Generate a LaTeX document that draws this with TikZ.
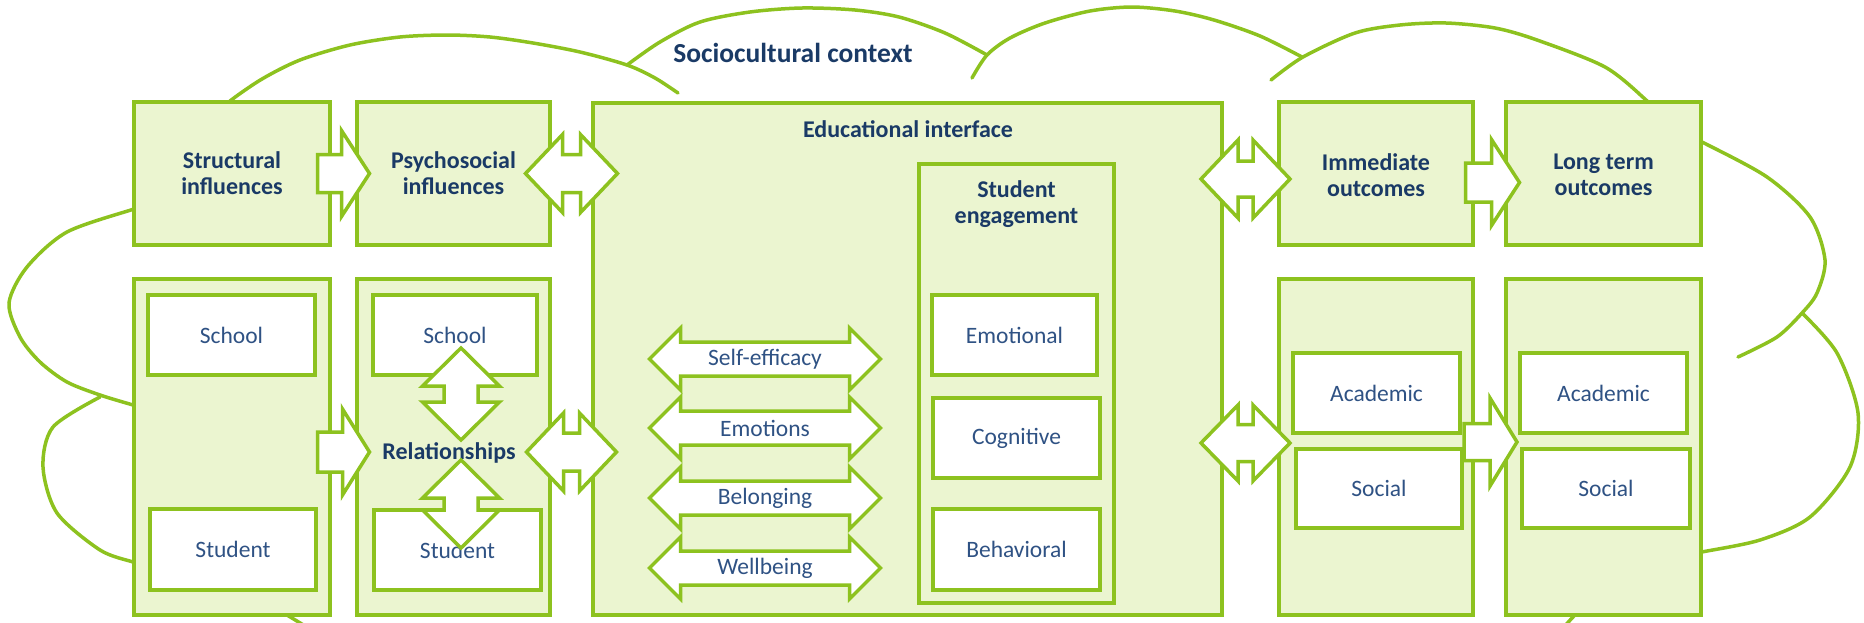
\documentclass[tikz,border=0pt]{standalone}
\usepackage{fontspec}
\setmainfont{Carlito}
\usetikzlibrary{calc}
\definecolor{lgreen}{HTML}{8DC21F}
\definecolor{lfill}{HTML}{EBF5D0}
\definecolor{navy}{HTML}{1A3A66}
\definecolor{tblue}{HTML}{2F5284}
\begin{document}
\begin{tikzpicture}[x=1pt,y=-1pt,
  cloudline/.style={draw=lgreen, line width=3.5pt, line cap=round},
  outerbox/.style={draw=lgreen, fill=lfill, line width=4pt, inner sep=0pt, outer sep=0pt},
  innerbox/.style={draw=lgreen, fill=white, line width=4pt, inner sep=0pt, outer sep=0pt,
     text=tblue, font=\fontsize{23.5}{26}\selectfont},
  titletext/.style={text=navy, font=\fontsize{24}{26}\selectfont\bfseries, align=center, inner sep=0pt},
  itext/.style={text=tblue, font=\fontsize{23.5}{26}\selectfont, inner sep=0pt},
  blockarrow/.style={draw=lgreen, fill=white, line width=3.5pt, line join=miter},
  pics/sarrow/.style n args={4}{code={
    \path[blockarrow] ({-#1/2},{-#4}) -- ({#1/2-#2},{-#4}) -- ({#1/2-#2},{-#3}) -- ({#1/2},0)
      -- ({#1/2-#2},{#3}) -- ({#1/2-#2},{#4}) -- ({-#1/2},{#4}) -- cycle;}},
  pics/darrow/.style n args={4}{code={
    \path[blockarrow] ({-#1/2},0) -- ({-#1/2+#2},{-#3}) -- ({-#1/2+#2},{-#4}) -- ({#1/2-#2},{-#4})
      -- ({#1/2-#2},{-#3}) -- ({#1/2},0) -- ({#1/2-#2},{#3}) -- ({#1/2-#2},{#4})
      -- ({-#1/2+#2},{#4}) -- ({-#1/2+#2},{#3}) -- cycle;}},
]
\useasboundingbox (0,0) rectangle (1864,622);

% ---- cloud (sociocultural context) ----
\draw[cloudline] plot[smooth] coordinates {(226,108) (230,101) (262,79) (300,60) (350,45) (400,37) (447,35) (490,37) (533,43) (580,52) (627,65) (655,78) (678,93)};
\draw[cloudline] plot[smooth] coordinates {(627,65) (660,42) (700,22) (750,12) (802,8) (855,10) (899,17) (945,33) (987,55)};
\draw[cloudline] plot[smooth] coordinates {(972,78) (987,55) (1010,38) (1045,23) (1090,11) (1132,7) (1175,11) (1214,20) (1260,36) (1302,57)};
\draw[cloudline] plot[smooth] coordinates {(1271,80) (1303,57) (1355,33) (1400,25) (1446,23) (1495,28) (1537,40) (1605,67) (1646,100) (1656,112)};
\draw[cloudline] plot[smooth] coordinates {(1690,137) (1702,142) (1767,177) (1810,217) (1825,260) (1817,293) (1802,313) (1777,337) (1738,357)};
\draw[cloudline] plot[smooth] coordinates {(1802,313) (1837,353) (1858,413) (1850,467) (1810,517) (1760,540) (1702,552) (1690,555)};
\draw[cloudline] plot[smooth] coordinates {(146,205) (134,209) (67,232) (27,267) (9,303) (20,337) (40,362) (67,382) (100,395) (133,405) (146,409)};
\draw[cloudline] plot[smooth] coordinates {(100,397) (53,427) (43,467) (57,513) (100,550) (133,562) (146,566)};
\draw[cloudline] plot[smooth] coordinates {(268,604) (287,615) (305,626)};
\draw[cloudline] plot[smooth] coordinates {(1586,604) (1573,617) (1563,628)};

\node[text=navy, font=\fontsize{27.5}{30}\selectfont\bfseries, inner sep=0pt] (socio) at (793,53) {Sociocultural context};

% ---- top row ----
\node[outerbox, minimum width=196, minimum height=143] (struct) at (232,173.5) {};
\node[outerbox, minimum width=193, minimum height=143] (psych) at (453.5,173.5) {};
\node[outerbox, minimum width=629, minimum height=512] (edu) at (907.5,359) {};
\node[outerbox, minimum width=194, minimum height=143] (imm) at (1376,173.5) {};
\node[outerbox, minimum width=195, minimum height=143] (long) at (1603.5,173.5) {};

% ---- bottom row ----
\node[outerbox, minimum width=196, minimum height=336] (structb) at (232,447) {};
\node[outerbox, minimum width=193, minimum height=336] (psychb) at (453.5,447) {};
\node[outerbox, minimum width=194, minimum height=336] (immb) at (1376,447) {};
\node[outerbox, minimum width=195, minimum height=336] (longb) at (1603.5,447) {};
\node[outerbox, minimum width=195, minimum height=439] (engage) at (1016.5,383.5) {};

% ---- titles ----
\node[titletext] (tstruct) at (struct) {Structural\\influences};
\node[titletext] (tpsych) at (psych) {Psychosocial\\influences};
\node[titletext] (tedu) at (908,129) {Educational interface};
\node[titletext] (timm) at (1376,175) {Immediate\\outcomes};
\node[titletext] (tlong) at (1603.5,175) {Long term\\outcomes};
\node[titletext] (tengage) at (1016.5,204) {Student\\engagement};

% ---- inner boxes ----
\node[innerbox, minimum width=167, minimum height=80] (sschool) at (231.5,335) {School};
\node[innerbox, minimum width=166, minimum height=81] (sstudent) at (233,549.5) {Student};
\node[innerbox, minimum width=164, minimum height=80] (pschool) at (455,335) {School};
\node[innerbox, minimum width=167, minimum height=80] (pstudent) at (457.5,550) {Student};
\node[innerbox, minimum width=165, minimum height=80] (emot) at (1014.5,335) {Emotional};
\node[innerbox, minimum width=167, minimum height=80] (cogn) at (1016.5,438) {Cognitive};
\node[innerbox, minimum width=167, minimum height=81] (behav) at (1016.5,549.5) {Behavioral};
\node[innerbox, minimum width=167, minimum height=80] (iacad) at (1376.5,393) {Academic};
\node[innerbox, minimum width=166, minimum height=79] (isoc) at (1379,488.5) {Social};
\node[innerbox, minimum width=167, minimum height=80] (lacad) at (1603.5,393) {Academic};
\node[innerbox, minimum width=168, minimum height=79] (lsoc) at (1606,488.5) {Social};

\node[titletext] (rel) at (449,453) {Relationships};

% ---- block arrows between boxes ----
\pic at ($(struct.east)!0.5!(psych.west)$) {sarrow={52}{28}{43}{19}};
\pic at ($(psych.east)!0.5!(psych.east -| edu.west)$) {darrow={92}{37}{39}{19}};
\pic at ($(structb.east)!0.5!(psychb.west)+(0,5)$) {sarrow={52}{27}{43}{20}};
\pic at ($(psychb.east)!0.5!(psychb.east -| edu.west)+(0,5)$) {darrow={90}{37}{39}{19}};
\pic at ($(imm.west -| edu.east)!0.5!(imm.west)+(-5,5.5)$) {darrow={89}{37}{39}{18}};
\pic at ($(imm.east)!0.5!(long.west)+(3,9)$) {sarrow={54}{28}{43}{19.5}};
\pic at ($(immb.west -| edu.east)!0.5!(immb.west)+(-5,-4)$) {darrow={89}{37}{38}{18.5}};
\pic at ($(immb.east)!0.5!(longb.west)+(1,-5)$) {sarrow={53}{27}{44}{18.5}};

% ---- vertical arrows in relationships ----
\pic[rotate=90] at ($(pschool.south)+(6,19)$) {darrow={92}{38}{38.5}{17}};
\pic[rotate=90] at ($(pstudent.north)+(3.5,-6)$) {darrow={88}{38}{38.5}{17}};

% ---- educational interface arrows ----
\coordinate (ca) at (765,359);
\coordinate (cb) at (765,428);
\coordinate (cc) at (765,498);
\coordinate (cd) at (765,568);
\pic at (ca) {darrow={231}{31}{31}{17}};
\pic at (cb) {darrow={231}{31}{31}{17}};
\pic at (cc) {darrow={231}{31}{31}{17}};
\pic at (cd) {darrow={231}{31}{31}{17}};
\node[itext] (selfeff) at (ca) {Self-efficacy};
\node[itext] (emotions) at (cb) {Emotions};
\node[itext] (belong) at (cc) {Belonging};
\node[itext] (wellb) at (cd) {Wellbeing};
\end{tikzpicture}
\end{document}
